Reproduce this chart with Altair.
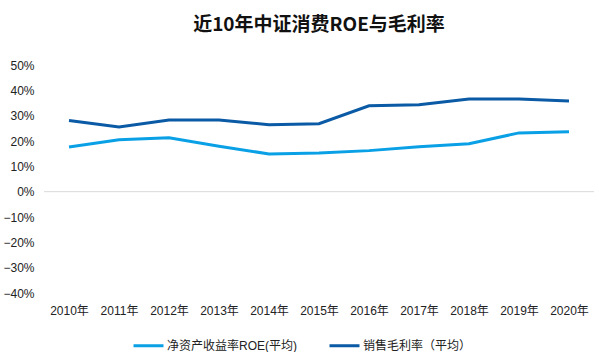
import altair as alt
import pandas as pd

years = ["2010年", "2011年", "2012年", "2013年", "2014年", "2015年", "2016年", "2017年", "2018年", "2019年", "2020年"]
roe = [17.6, 20.5, 21.3, 17.9, 14.9, 15.3, 16.2, 17.7, 18.9, 23.2, 23.7]
gross = [28.1, 25.5, 28.3, 28.3, 26.4, 26.8, 33.9, 34.3, 36.6, 36.6, 35.8]
series = ["净资产收益率ROE(平均)", "销售毛利率（平均）"]
colors = ["#0AA0E6", "#0A5AA5"]
yticks = [-0.4, -0.3, -0.2, -0.1, 0.0, 0.1, 0.2, 0.3, 0.4, 0.5]

rows = []
for y, a, b in zip(years, roe, gross):
    rows.append({"year": y, "series": series[0], "value": a / 100})
    rows.append({"year": y, "series": series[1], "value": b / 100})
df = pd.DataFrame(rows)

FONT = "Liberation Sans, Noto Sans CJK SC, sans-serif"

yaxis = alt.Axis(values=yticks, format=".0%", domain=False, ticks=False, grid=False,
                 labelPadding=10, labelFontSize=12, labelColor="#222222", labelFont=FONT)
yscale = alt.Scale(domain=[-0.4, 0.5], nice=False)

x = alt.X("year:N", sort=years, title=None,
          scale=alt.Scale(paddingInner=1, paddingOuter=0.5),
          axis=alt.Axis(labelAngle=0, domain=False, ticks=False, labelPadding=12,
                        labelFontSize=12, labelColor="#222222", labelFont=FONT))
y = alt.Y("value:Q", title=None, scale=yscale, axis=yaxis)

zero = alt.Chart(pd.DataFrame({"value": [0.0]})).mark_rule(color="#d9d9d9", strokeWidth=1).encode(
    y=alt.Y("value:Q", title=None, scale=yscale, axis=yaxis))

lines = alt.Chart(df).mark_line(strokeWidth=3).encode(
    x=x, y=y,
    color=alt.Color("series:N", scale=alt.Scale(domain=series, range=colors),
                    legend=alt.Legend(title=None, orient="none", legendX=88, legendY=264,
                                      direction="horizontal", symbolType="stroke",
                                      symbolSize=900, symbolStrokeWidth=3, labelFontSize=12,
                                      labelFont=FONT, labelColor="#222222", columnPadding=26,
                                      labelOffset=2)),
)

chart = alt.layer(zero, lines).properties(
    width=550, height=228,
    title=alt.TitleParams("近10年中证消费ROE与毛利率", fontSize=19, fontWeight="bold",
                          font="Noto Sans CJK SC", color="#111111", anchor="middle", offset=24),
    autosize=alt.AutoSizeParams(type="none"),
    padding={"left": 44, "top": 65, "right": 5, "bottom": 59},
).configure_view(stroke=None)

chart.save("out.html", embed_options={"renderer": "svg", "actions": False})
